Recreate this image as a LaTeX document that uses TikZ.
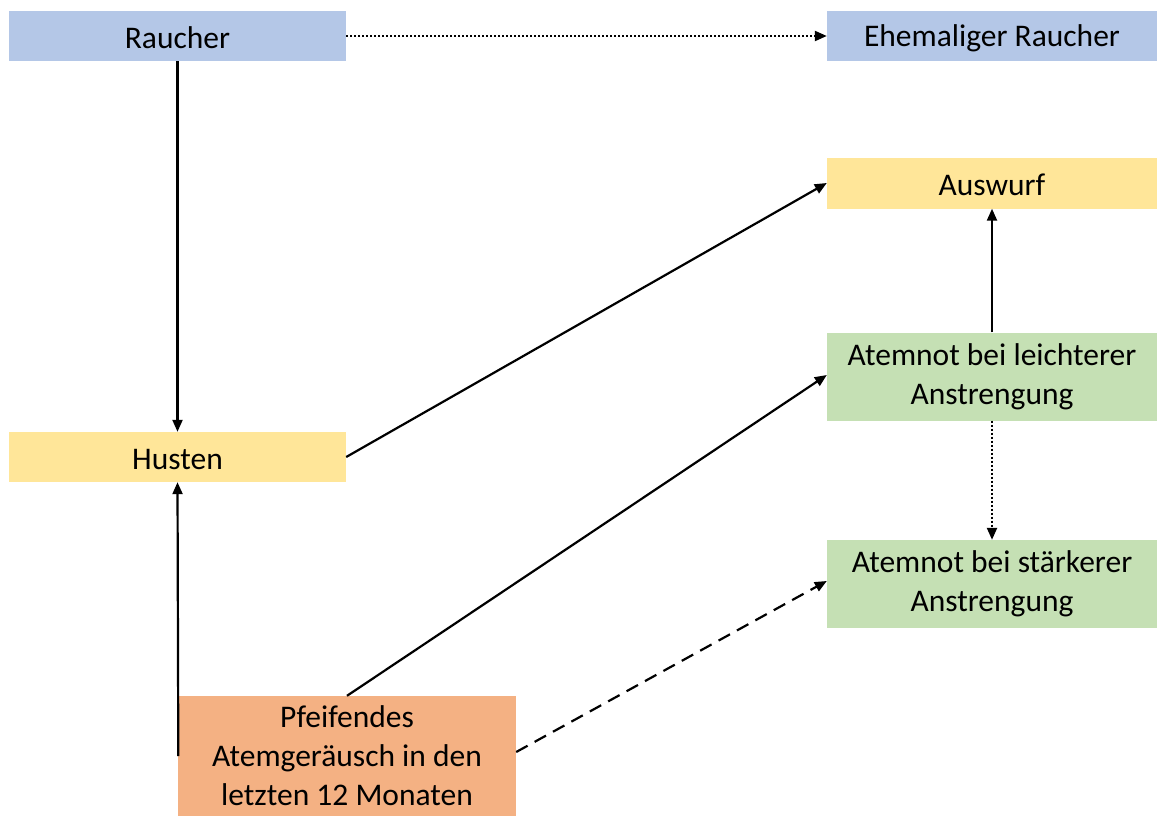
\documentclass[tikz,border=0pt]{standalone}
\usepackage{fontspec}
\setmainfont{Carlito}
\usetikzlibrary{arrows.meta}
\definecolor{smokeblue}{HTML}{B4C7E7}
\definecolor{sympyellow}{HTML}{FFE699}
\definecolor{breathgreen}{HTML}{C5E0B4}
\definecolor{wheezeorange}{HTML}{F4B183}
\begin{document}
\begin{tikzpicture}[x=1pt,y=-1pt,
  box/.style={rectangle,inner sep=0pt,align=center,
    font=\fontsize{31.5}{39}\selectfont,
    execute at begin node={\rule{0pt}{26pt}}},
  link/.style={line width=2.2pt,-{Triangle[length=12pt,width=10pt]}},
  dotlink/.style={link,dash pattern=on 2pt off 2pt},
  dashlink/.style={link,dash pattern=on 13pt off 8pt}]
\useasboundingbox (0,0) rectangle (1158,816);
% boxes
\node[box,fill=smokeblue,minimum width=337pt,minimum height=50pt] (raucher) at (177.5,36) {Raucher};
\node[box,fill=smokeblue,minimum width=330pt,minimum height=50pt] (ehem) at (992,36) {Ehemaliger Raucher};
\node[box,fill=sympyellow,minimum width=330pt,minimum height=51pt] (auswurf) at (992,183) {Auswurf};
\node[box,fill=sympyellow,minimum width=337pt,minimum height=50pt] (husten) at (177.5,457) {Husten};
\node[box,fill=breathgreen,minimum width=330pt,minimum height=88pt] (leicht) at (992,376.5) {Atemnot bei leichterer\\Anstrengung};
\node[box,fill=breathgreen,minimum width=330pt,minimum height=88pt] (stark) at (992,584) {Atemnot bei stärkerer\\Anstrengung};
\node[box,fill=wheezeorange,minimum width=338pt,minimum height=120pt] (pfeif) at (347,756) {Pfeifendes\\Atemgeräusch in den\\letzten 12 Monaten};
% connectors
\draw[dotlink] (raucher.east) -- (ehem.west);
\draw[link] (raucher.south) -- (husten.north);
\draw[link] (husten.east) -- (auswurf.west);
\draw[link] (leicht.north) -- (auswurf.south);
\draw[dotlink] (leicht.south) -- (stark.north);
\draw[link] (pfeif.north) -- ([yshift=1.5pt]leicht.west);
\draw[dashlink] ([yshift=4pt]pfeif.east) -- ([yshift=3pt]stark.west);
\draw[link] ([xshift=0.5pt]pfeif.west) -- (husten.south);
\end{tikzpicture}
\end{document}
